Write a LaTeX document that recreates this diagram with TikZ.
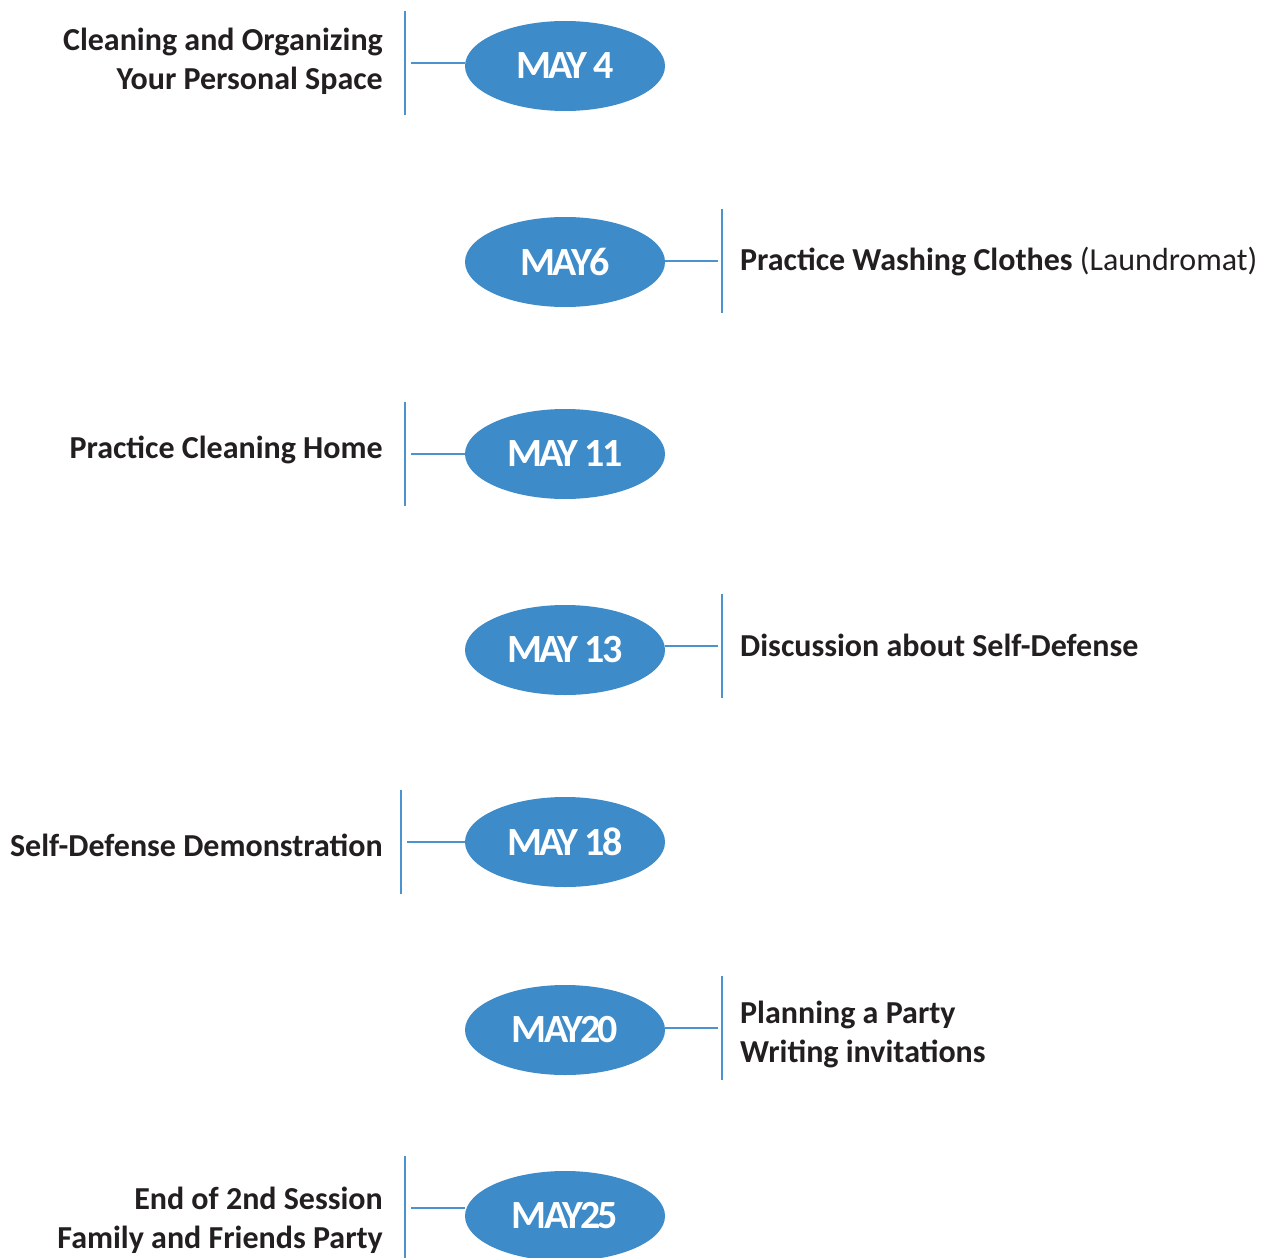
\documentclass[tikz,border=0pt]{standalone}
\usepackage{fontspec}
\setmainfont{Carlito}
\newfontfamily\datefont[LetterSpace=-7.0]{Carlito}
\usetikzlibrary{shapes.geometric}
\definecolor{dateblue}{HTML}{3D8BC9}
\definecolor{linkblue}{HTML}{4A92D0}
\definecolor{ink}{HTML}{231F20}
\tikzset{
    date/.style = {ellipse, fill = dateblue, minimum width = 200pt, minimum height = 90pt,
        inner sep = 0pt, text = white, font = \datefont\bfseries\fontsize{40}{40}\selectfont},
    topic/.style = {text = ink, font = \bfseries\fontsize{32}{39}\selectfont, inner sep = 0pt},
    link/.style = {draw = linkblue, line width = 2.4pt}
}
\begin{document}
\begin{tikzpicture}[x = 1pt, y = -1pt]
    \useasboundingbox (0,0) rectangle (1273,1257);
    % dates
    \node[date] (d4)  at (565,66)   {MAY 4};
    \node[date] (d6)  at (565,262)  {MAY6};
    \node[date] (d11) at (565,454)  {MAY 11};
    \node[date] (d13) at (565,650)  {MAY 13};
    \node[date] (d18) at (565,842)  {MAY 18};
    \node[date] (d20) at (565,1030) {MAY20};
    \node[date] (d25) at (565,1216) {MAY25};
    % topics
    \node[topic, anchor = east, align = right] (t4) at (383,61)
        {Cleaning and Organizing\\Your Personal Space};
    \node[topic, anchor = west] (t6) at (740,262)
        {Practice Washing Clothes \mdseries(Laundromat)};
    \node[topic, anchor = east] (t11) at (383,450) {Practice Cleaning Home};
    \node[topic, anchor = west] (t13) at (740,645) {Discussion about Self-Defense};
    \node[topic, anchor = east] (t18) at (383,845) {Self-Defense Demonstration};
    \node[topic, anchor = west, align = left] (t20) at (740,1034)
        {Planning a Party\\Writing invitations};
    \node[topic, anchor = east, align = right] (t25) at (383,1220)
        {End of 2nd Session\\Family and Friends Party};
    % brackets
    \coordinate (b4)  at (405,63);
    \coordinate (b6)  at (722,261);
    \coordinate (b11) at (405,454);
    \coordinate (b13) at (722,646);
    \coordinate (b18) at (401,842);
    \coordinate (b20) at (722,1028);
    \coordinate (b25) at (405,1208);
    \foreach \b in {b4, b6, b11, b13, b18, b20, b25}
        \draw[link] ([yshift = -52pt]\b) -- ([yshift = 52pt]\b);
    \foreach \b/\d in {b4/d4, b11/d11, b18/d18, b25/d25}
        \draw[link] ([xshift = 6pt]\b) -- (\b -| \d.west);
    \foreach \b/\d in {b6/d6, b13/d13, b20/d20}
        \draw[link] (\b -| \d.east) -- ([xshift = -4pt]\b);
\end{tikzpicture}
\end{document}
